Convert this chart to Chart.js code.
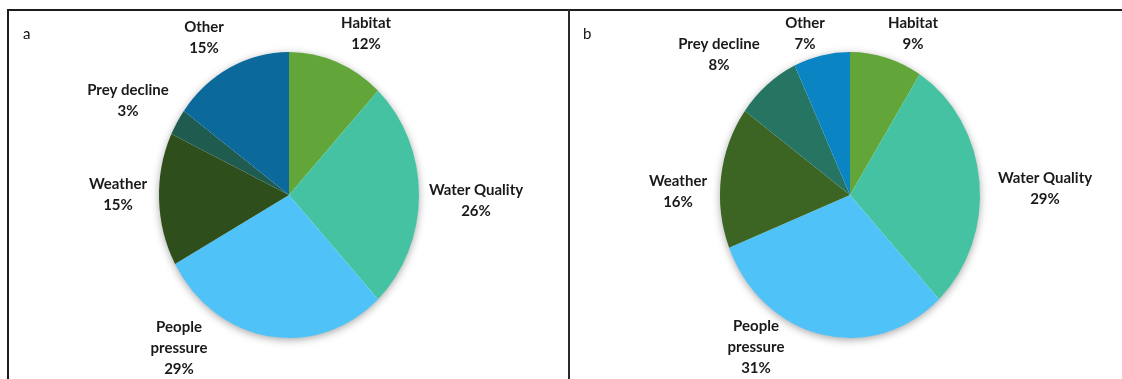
<!DOCTYPE html>
<html>
<head>
<meta charset="utf-8">
<script src="https://cdn.jsdelivr.net/npm/chart.js@4/dist/chart.umd.min.js"></script>
<style>
  html, body { margin: 0; padding: 0; background: #fff; }
  body { width: 1122px; height: 379px; position: relative; overflow: hidden; font-family: Lato, "Open Sans", sans-serif; }
  canvas { position: absolute; top: 0; }
  #cA { left: 0; }
  #cB { left: 570px; }
  .frame { position: absolute; left: 7px; top: 9px; width: 1130px; height: 400px;
           border-top: 2px solid #1c1c1c; border-left: 2px solid #1c1c1c; z-index: 2; }
  .divider { position: absolute; left: 568px; top: 9px; width: 2px; height: 400px; background: #2a2a2a; z-index: 2; }
  .panel-tag { position: absolute; top: 24px; font-size: 15px; color: #111; z-index: 3; }
</style>
</head>
<body>
<canvas id="cA" width="568" height="379"></canvas>
<canvas id="cB" width="552" height="379"></canvas>
<div class="frame"></div>
<div class="divider"></div>
<div class="panel-tag" style="left:23px">a</div>
<div class="panel-tag" style="left:583px">b</div>
<script>
// Threat categories, in drawing order (clockwise from 12 o'clock)
const categories = ['Habitat', 'Water Quality', 'People\npressure', 'Weather', 'Prey decline', 'Other'];

// Share of responses (%) for each panel
const valuesA = [12, 26, 29, 15, 3, 15];
const valuesB = [9, 29, 31, 16, 8, 7];

// Slice colours
const coloursA = ['#62A539', '#44C2A2', '#4FC3F7', '#2E4E1B', '#1F5C4F', '#0B6A9B'];
const coloursB = ['#62A539', '#44C2A2', '#4FC3F7', '#3C6423', '#267563', '#0A84C3'];

// Label block centres, relative to the pie centre (px)
const labelOffsetsA = [[77, -161], [187, 6], [-110, 153], [-171, 0], [-161, -94], [-85, -157]];
const labelOffsetsB = [[63, -161], [195, -6], [-94, 152], [-172, -3], [-131, -140], [-45, -161]];

// Pies are drawn slightly taller than wide
const VERTICAL_STRETCH = 1.1;

const ellipsePie = {
  id: 'ellipsePie',
  beforeDatasetsDraw(chart) {
    const { ctx, chartArea } = chart;
    const arc = chart.getDatasetMeta(0).data[0];
    const cx = arc.x, cy = arc.y, r = arc.outerRadius;
    // soft drop shadow under the whole pie
    ctx.save();
    ctx.shadowColor = 'rgba(0,0,0,0.38)';
    ctx.shadowBlur = 9;
    ctx.shadowOffsetX = 0;
    ctx.shadowOffsetY = 2;
    ctx.fillStyle = '#ffffff';
    ctx.beginPath();
    ctx.ellipse(cx, cy, r - 0.5, r * VERTICAL_STRETCH - 0.5, 0, 0, Math.PI * 2);
    ctx.fill();
    ctx.restore();
    // stretch the arcs vertically about the centre
    ctx.save();
    ctx.translate(cx, cy);
    ctx.scale(1, VERTICAL_STRETCH);
    ctx.translate(-cx, -cy);
  },
  afterDatasetsDraw(chart) {
    chart.ctx.restore();
  }
};

const sliceLabels = {
  id: 'sliceLabels',
  afterDraw(chart, args, opts) {
    const { ctx } = chart;
    const arc = chart.getDatasetMeta(0).data[0];
    const cx = arc.x, cy = arc.y;
    const ds = chart.data.datasets[0];
    ctx.save();
    ctx.font = 'bold 15px Lato, "Open Sans", sans-serif';
    ctx.fillStyle = '#1a1a1a';
    ctx.textAlign = 'center';
    ctx.textBaseline = 'middle';
    const lh = 21;
    chart.data.labels.forEach((name, i) => {
      const lines = name.split('\n').concat([ds.data[i] + '%']);
      const [dx, dy] = opts.offsets[i];
      const top = cy + dy - (lines.length - 1) * lh / 2;
      lines.forEach((t, k) => ctx.fillText(t, cx + dx, top + k * lh));
    });
    ctx.restore();
  }
};

function makePie(id, values, colours, offsets, padding) {
  return new Chart(document.getElementById(id), {
    type: 'pie',
    data: {
      labels: categories,
      datasets: [{ data: values, backgroundColor: colours, borderWidth: 0 }]
    },
    options: {
      responsive: false,
      animation: false,
      events: [],
      layout: { padding },
      plugins: {
        legend: { display: false },
        tooltip: { enabled: false },
        sliceLabels: { offsets }
      }
    },
    plugins: [ellipsePie, sliceLabels]
  });
}

makePie('cA', valuesA, coloursA, labelOffsetsA, { left: 159, right: 149, top: 65, bottom: 54 });
makePie('cB', valuesB, coloursB, labelOffsetsB, { left: 150, right: 142, top: 65, bottom: 54 });
</script>
</body>
</html>
